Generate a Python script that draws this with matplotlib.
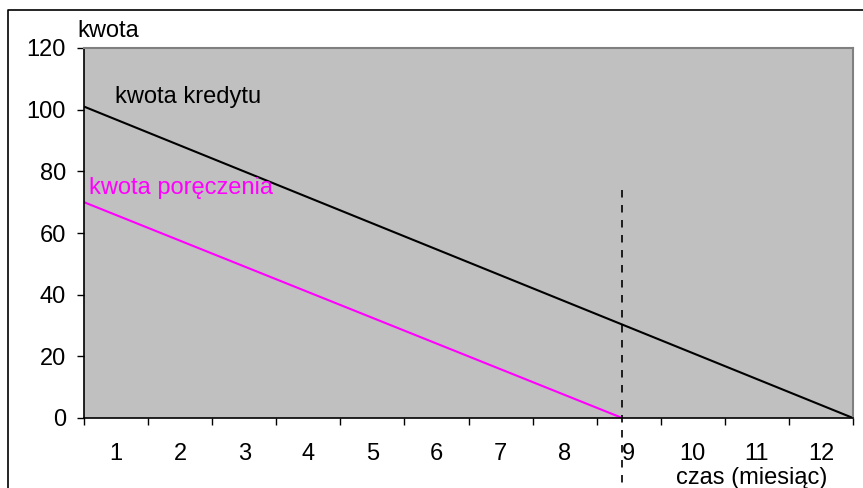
import matplotlib.pyplot as plt
from matplotlib.lines import Line2D

plt.rcParams['font.family'] = ['Liberation Sans', 'DejaVu Sans']

# data
months = [str(m) for m in range(1, 13)]
credit_t = [0, 12]
credit = [101, 0]
guarantee_t = [0, 8.4]
guarantee = [70, 0]
end_guarantee = 8.4
y_ticks = [0, 20, 40, 60, 80, 100, 120]

FS = 17

fig = plt.figure(figsize=(8.63, 4.88), dpi=100)
ax = fig.add_axes([84 / 863, 1 - 418 / 488, (853 - 84) / 863, (418 - 48) / 488])
ax.set_facecolor('#c0c0c0')

ax.plot(credit_t, credit, color='black', lw=1.5, solid_capstyle='butt')
ax.plot(guarantee_t, guarantee, color='#ff00ff', lw=1.5, solid_capstyle='butt')

# dashed marker at end of guarantee, running below the axis
ax.plot([end_guarantee, end_guarantee], [74, -23], color='black', lw=1.2,
        ls=(0, (4.5, 4.5)), clip_on=False)

ax.set_xlim(0, 12)
ax.set_ylim(0, 120)
ax.set_yticks(y_ticks)
ax.set_xticks(range(0, 13))
ax.set_xticklabels([])
ax.set_xticks([i + 0.5 for i in range(12)], minor=True)
ax.set_xticklabels(months, minor=True)
ax.tick_params(axis='x', which='major', length=5, width=1, direction='out')
ax.tick_params(axis='x', which='minor', length=0, pad=18, labelsize=FS)
ax.tick_params(axis='y', length=5, width=1, pad=8, labelsize=FS)

for s in ['top', 'right']:
    ax.spines[s].set_color('#808080')
    ax.spines[s].set_linewidth(1.5)
for s in ['left', 'bottom']:
    ax.spines[s].set_color('black')
    ax.spines[s].set_linewidth(1.2)

ax.text(0.48, 102, 'kwota kredytu', fontsize=FS, color='black', va='baseline')
ax.text(0.08, 72.5, 'kwota poręczenia', fontsize=FS, color='#ff00ff', va='baseline')

fig.text(77 / 863, 1 - 37 / 488, 'kwota', fontsize=FS, va='baseline')
fig.text(827 / 863, 1 - 484 / 488, 'czas (miesiąc)', fontsize=FS, ha='right', va='baseline')

# outer chart frame (left and top edges)
fig.add_artist(Line2D([8 / 863, 8 / 863, 1.0], [0, 1 - 10 / 488, 1 - 10 / 488],
                      transform=fig.transFigure, color='black', lw=1.2))

fig.savefig('out.png', dpi=100)
